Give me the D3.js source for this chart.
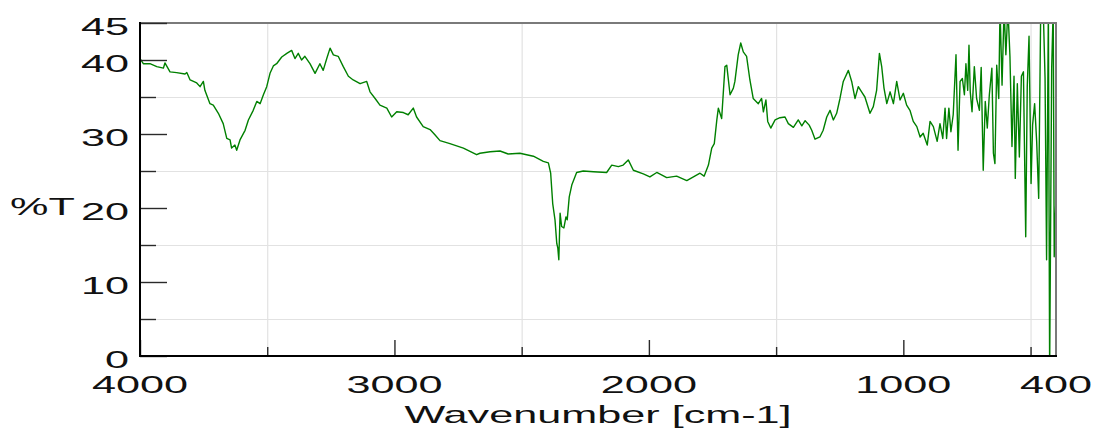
<!DOCTYPE html>
<html>
<head>
<meta charset="utf-8">
<script src="https://cdn.jsdelivr.net/npm/d3@7"></script>
<style>
  html, body { margin: 0; padding: 0; background: #fff; }
  svg { display: block; }
  text { font-family: "Liberation Sans", Arial, sans-serif; fill: #111; }
</style>
</head>
<body>
<div id="chart"></div>
<script>
// spectrum (wavenumber in cm-1, transmittance in %)
const wavenumbers = [
  4000, 3987, 3961, 3934, 3908, 3902, 3882, 3856, 3823, 3816, 3803, 3777, 3764, 3751, 3745,
  3725, 3712, 3692, 3673, 3659, 3646, 3640, 3627, 3620, 3607, 3587, 3574, 3555, 3541, 3528,
  3515, 3502, 3489, 3476, 3463, 3443, 3423, 3404, 3391, 3378, 3365, 3352, 3332, 3312, 3293,
  3280, 3266, 3253, 3240, 3221, 3201, 3181, 3162, 3135, 3109, 3096, 3076, 3057, 3030, 3011,
  2991, 2965, 2946, 2926, 2913, 2887, 2860, 2841, 2821, 2782, 2729, 2677, 2664, 2624, 2585,
  2553, 2507, 2454, 2415, 2395, 2386, 2378, 2369, 2362, 2358, 2354, 2349, 2343, 2334, 2326,
  2321, 2313, 2303, 2284, 2258, 2218, 2166, 2146, 2120, 2101, 2081, 2061, 2022, 1996, 1969,
  1930, 1891, 1851, 1825, 1799, 1783, 1766, 1753, 1743, 1733, 1727, 1714, 1701, 1694, 1681,
  1668, 1662, 1649, 1639, 1629, 1616, 1603, 1590, 1570, 1557, 1550, 1540, 1533, 1521, 1504,
  1485, 1465, 1452, 1432, 1413, 1399, 1386, 1370, 1360, 1347, 1328, 1315, 1301, 1288, 1275,
  1262, 1249, 1236, 1216, 1203, 1190, 1177, 1164, 1151, 1131, 1118, 1105, 1094, 1085, 1076,
  1065, 1052, 1039, 1026, 1013, 1000, 987, 974, 961, 947, 934, 922, 906, 895, 882,
  867, 856, 845, 836, 830, 821, 813, 804, 793, 785, 777, 768, 760, 754, 747,
  742, 737, 730, 721, 712, 701, 694, 686, 678, 670, 662, 652, 646, 640, 633,
  625, 620, 612, 604, 597, 589, 581, 573, 565, 560, 552, 544, 536, 528, 519,
  513, 506, 498, 492, 484, 476, 468, 460, 451, 443, 437, 430, 425, 417, 411,
  407, 400
];
const transmittance = [
  40.2, 39.5, 39.5, 39.1, 38.9, 39.6, 38.4, 38.3, 38.1, 38.3, 37.3, 36.9, 36.4, 37.1, 35.9,
  34.1, 33.9, 32.8, 31.4, 29.4, 29.2, 28.1, 28.5, 27.8, 29.2, 30.5, 31.9, 33.2, 34.4, 34.1,
  35.3, 36.4, 38.2, 39.2, 39.5, 40.4, 40.9, 41.3, 40.2, 40.9, 40.0, 40.5, 39.5, 38.2, 39.5,
  38.6, 40.2, 41.6, 40.7, 40.5, 39.1, 37.8, 37.3, 36.8, 37.1, 35.7, 34.8, 33.9, 33.5, 32.3,
  33.0, 32.9, 32.6, 33.5, 32.3, 31.0, 30.6, 29.9, 29.1, 28.7, 28.1, 27.2, 27.4, 27.6, 27.7,
  27.3, 27.4, 27.0, 26.3, 26.1, 24.7, 20.6, 18.4, 15.2, 14.6, 13.0, 19.3, 17.5, 17.3, 18.8,
  18.4, 21.5, 23.1, 24.8, 25.0, 24.9, 24.8, 25.8, 25.6, 25.8, 26.5, 25.1, 24.6, 24.2, 24.8,
  24.1, 24.3, 23.7, 24.2, 24.7, 24.3, 25.8, 28.1, 28.7, 31.9, 33.5, 32.1, 39.1, 39.3, 35.3,
  36.2, 37.1, 40.7, 42.3, 41.1, 40.5, 37.3, 34.8, 34.1, 34.8, 33.0, 34.6, 31.7, 30.8, 31.9,
  32.2, 32.3, 31.4, 30.9, 31.9, 31.1, 31.8, 31.2, 30.5, 29.3, 29.6, 30.5, 32.3, 33.2, 31.9,
  32.8, 34.8, 37.1, 38.6, 37.1, 34.8, 36.4, 35.7, 35.0, 32.8, 33.7, 35.9, 40.9, 39.1, 36.2,
  34.1, 35.7, 34.1, 37.1, 34.6, 35.5, 33.9, 33.2, 31.7, 31.0, 29.6, 30.1, 28.5, 31.7, 31.0,
  29.0, 31.4, 29.4, 33.5, 29.4, 33.5, 30.3, 32.6, 40.7, 27.8, 37.1, 37.5, 35.3, 39.5, 35.9,
  42.0, 35.7, 33.0, 39.1, 34.8, 33.2, 39.0, 25.1, 34.4, 30.8, 35.3, 38.9, 27.4, 26.0, 39.3,
  34.8, 47.0, 36.6, 47.0, 40.7, 47.0, 40.5, 28.3, 37.8, 24.0, 36.8, 26.9, 37.8, 38.4, 16.1,
  36.4, 43.2, 23.3, 31.2, 34.1, 29.0, 21.3, 47.0, 48.0, 37.5, 13.0, 47.0, -2.0, 38.9, 47.0,
  13.4, 21.8
];

const xMajorTicks = [4000, 3000, 2000, 1000];
const xMinorTicks = [3500, 2500, 1500, 500];
const xTickLabels = [4000, 3000, 2000, 1000, 400];
const yMajorTicks = [0, 10, 20, 30, 40, 45];
const yMinorTicks = [5, 15, 25, 35];
const yTickLabels = [0, 10, 20, 30, 40, 45];
const xTitle = 'Wavenumber [cm-1]';
const yTitle = '%T';

const spectrum = wavenumbers.map((w, i) => ({w, t: transmittance[i]}));

const W = 1097;
const H = 433;
const margin = {top: 23, right: 41, bottom: 77, left: 140};
const plotW = W - margin.left - margin.right;
const plotH = H - margin.top - margin.bottom;
const fontSize = 24;
const stretch = 1.8;

const svg = d3.select('#chart').append('svg')
    .attr('width', W)
    .attr('height', H);

const plot = svg.append('g')
    .attr('transform', `translate(${margin.left}, ${margin.top})`);

const x = d3.scaleLinear().domain([4000, 400]).range([0, plotW]);
const y = d3.scaleLinear().domain([0, 45]).range([plotH, 0]);

// light gridlines, only at the minor tick positions
plot.append('g')
    .attr('class', 'grid-x')
    .call(d3.axisBottom(x).tickValues(xMinorTicks).tickSize(plotH).tickFormat(''))
    .call(g => g.select('.domain').remove())
    .call(g => g.selectAll('line').attr('stroke', '#e2e2e2').attr('stroke-width', 1.2));
plot.append('g')
    .attr('class', 'grid-y')
    .call(d3.axisRight(y).tickValues(yMinorTicks).tickSize(plotW).tickFormat(''))
    .call(g => g.select('.domain').remove())
    .call(g => g.selectAll('line').attr('stroke', '#e2e2e2').attr('stroke-width', 1.2));

// spectrum
svg.append('clipPath').attr('id', 'plot-clip')
    .append('rect').attr('width', plotW).attr('height', plotH);

const line = d3.line()
    .x(d => x(d.w))
    .y(d => y(d.t));

plot.append('path')
    .datum(spectrum)
    .attr('clip-path', 'url(#plot-clip)')
    .attr('fill', 'none')
    .attr('stroke', '#008000')
    .attr('stroke-width', 1.4)
    .attr('stroke-linejoin', 'round')
    .attr('d', line);

// frame: grey top/right, black left/bottom
plot.append('rect')
    .attr('width', plotW).attr('height', plotH)
    .attr('fill', 'none').attr('stroke', '#7a7a7a').attr('stroke-width', 2);

const tickStyle = g => g.selectAll('.tick line').attr('stroke', '#2a2a2a').attr('stroke-width', 1.4);

plot.append('g')
    .call(d3.axisLeft(y).tickValues(yMajorTicks).tickSize(-27).tickFormat(''))
    .call(g => g.select('.domain').remove())
    .call(tickStyle);
plot.append('g')
    .call(d3.axisLeft(y).tickValues(yMinorTicks).tickSize(-16).tickFormat(''))
    .call(g => g.select('.domain').remove())
    .call(tickStyle);
plot.append('g')
    .attr('transform', `translate(0, ${plotH})`)
    .call(d3.axisBottom(x).tickValues(xMajorTicks).tickSize(-16).tickFormat(''))
    .call(g => g.select('.domain').remove())
    .call(tickStyle);
plot.append('g')
    .attr('transform', `translate(0, ${plotH})`)
    .call(d3.axisBottom(x).tickValues(xMinorTicks).tickSize(-9).tickFormat(''))
    .call(g => g.select('.domain').remove())
    .call(tickStyle);

plot.append('line')
    .attr('x1', 0).attr('x2', 0).attr('y1', -1).attr('y2', plotH + 1)
    .attr('stroke', '#000').attr('stroke-width', 2);
plot.append('line')
    .attr('x1', -1).attr('x2', plotW + 1).attr('y1', plotH).attr('y2', plotH)
    .attr('stroke', '#000').attr('stroke-width', 2);

// wide, horizontally stretched labels like the source plot
const wideText = (parent, px, py, str, anchor) => parent.append('text')
    .attr('transform', `translate(${px}, ${py}) scale(${stretch}, 1)`)
    .attr('text-anchor', anchor)
    .attr('font-size', fontSize)
    .text(str);

yTickLabels.forEach(v => wideText(plot, -11, y(v) + 12, v, 'end'));
xTickLabels.forEach(v => wideText(plot, x(v), plotH + 37, v, 'middle'));

wideText(plot, plotW / 2, plotH + 67, xTitle, 'middle');
wideText(svg, 10, 215, yTitle, 'start');
</script>
</body>
</html>
